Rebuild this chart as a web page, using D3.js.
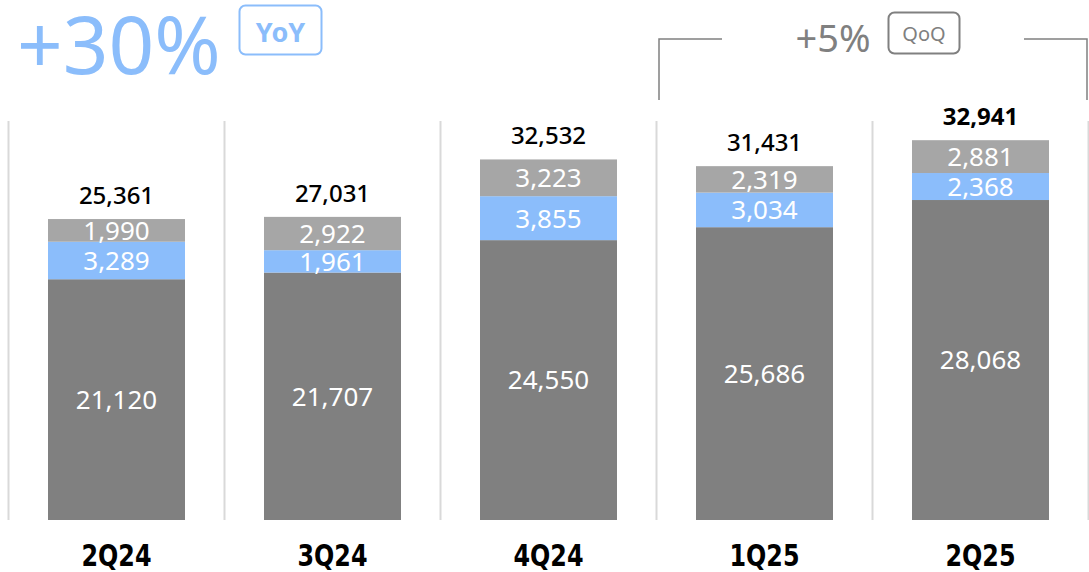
<!DOCTYPE html>
<html>
<head>
<meta charset="utf-8">
<script src="https://cdn.jsdelivr.net/npm/d3@7"></script>
<style>
  body { margin: 0; background: #fff; }
  text { font-family: "Noto Sans", "Open Sans", sans-serif; }
</style>
</head>
<body>
<script>
// data
var quarters = ["2Q24", "3Q24", "4Q24", "1Q25", "2Q25"];
var baseValues = [21120, 21707, 24550, 25686, 28068];
var blueValues = [3289, 1961, 3855, 3034, 2368];
var grayValues = [1990, 2922, 3223, 2319, 2881];
var totalLabels = ["25,361", "27,031", "32,532", "31,431", "32,941"];
var yoyText = "+30%", qoqText = "+5%";

var width = 1089, height = 572;

var svg = d3.select("body").append("svg")
    .attr("width", width)
    .attr("height", height);

// scales
var x = d3.scaleBand().domain(quarters).range([8.5, 1088.5]).paddingInner(0.3657).paddingOuter(0.3657 / 2);
var y = d3.scaleLinear().domain([0, 35000]).range([520, 121]);

var colors = ["#808080", "#8bbdfb", "#a6a6a6"];

// stack the three series
var rows = quarters.map(function(q, i) {
  return {q: q, base: baseValues[i], blue: blueValues[i], gray: grayValues[i]};
});
var series = d3.stack().keys(["base", "blue", "gray"])(rows);

// separators
svg.selectAll(".sep")
    .data(d3.range(quarters.length + 1))
  .enter().append("line")
    .attr("x1", function(i) { return Math.round(8.5 + i * x.step()) - 0.5; })
    .attr("x2", function(i) { return Math.round(8.5 + i * x.step()) - 0.5; })
    .attr("y1", 121)
    .attr("y2", 520)
    .style("stroke", "#d9d9d9")
    .style("stroke-width", 2);

// bars
var layer = svg.selectAll(".layer")
    .data(series)
  .enter().append("g")
    .attr("class", "layer")
    .style("fill", function(d, i) { return colors[i]; });

layer.selectAll("rect")
    .data(function(d) { return d; })
  .enter().append("rect")
    .attr("x", function(d) { return x(d.data.q); })
    .attr("y", function(d) { return y(d[1]); })
    .attr("width", x.bandwidth())
    .attr("height", function(d) { return y(d[0]) - y(d[1]); });

// segment labels
layer.selectAll("text")
    .data(function(d) { return d; })
  .enter().append("text")
    .attr("x", function(d) { return x(d.data.q) + x.bandwidth() / 2; })
    .attr("y", function(d) { return (y(d[0]) + y(d[1])) / 2; })
    .attr("dy", "0.36em")
    .style("text-anchor", "middle")
    .style("fill", "#fff")
    .style("font-size", "26px")
    .text(function(d) { return d3.format(",")(d[1] - d[0]); });

// totals
svg.selectAll(".total")
    .data(rows)
  .enter().append("text")
    .attr("class", "total")
    .attr("x", function(d) { return x(d.q) + x.bandwidth() / 2; })
    .attr("y", function(d) { return y(d.base + d.blue + d.gray) - 15; })
    .style("text-anchor", "middle")
    .style("font-size", "24px")
    .style("font-weight", function(d, i) { return i == quarters.length - 1 ? "bold" : "500"; })
    .style("fill", "#000")
    .text(function(d, i) { return totalLabels[i]; });

// category labels
svg.selectAll(".cat")
    .data(quarters)
  .enter().append("text")
    .attr("class", "cat")
    .attr("x", function(d) { return x(d) + x.bandwidth() / 2; })
    .attr("y", 566)
    .attr("textLength", 70)
    .attr("lengthAdjust", "spacingAndGlyphs")
    .style("text-anchor", "middle")
    .style("font-family", "'DejaVu Sans Condensed', 'DejaVu Sans', sans-serif")
    .style("font-weight", "bold")
    .style("font-size", "30px")
    .style("fill", "#000")
    .text(function(d) { return d; });

// YoY headline
svg.append("text")
    .attr("x", 17)
    .attr("y", 74)
    .style("font-size", "80px")
    .style("fill", "#8bbdfb")
    .text(yoyText);

svg.append("rect")
    .attr("x", 239.5).attr("y", 5.5)
    .attr("width", 82).attr("height", 49)
    .attr("rx", 6)
    .style("fill", "none")
    .style("stroke", "#8bbdfb")
    .style("stroke-width", 2);

svg.append("text")
    .attr("x", 280.5).attr("y", 42)
    .style("text-anchor", "middle")
    .style("font-size", "27px")
    .style("font-weight", "bold")
    .style("fill", "#8bbdfb")
    .text("YoY");

// QoQ headline with bracket
var bracket = "M659,100 V39 H722 M1024,39 H1087 V100";
svg.append("path")
    .attr("d", bracket)
    .style("fill", "none")
    .style("stroke", "#808080")
    .style("stroke-width", 1.5);

svg.append("text")
    .attr("x", 833).attr("y", 52)
    .style("text-anchor", "middle")
    .style("font-size", "38px")
    .style("fill", "#808080")
    .text(qoqText);

svg.append("rect")
    .attr("x", 888.5).attr("y", 12.5)
    .attr("width", 71).attr("height", 41)
    .attr("rx", 6)
    .style("fill", "none")
    .style("stroke", "#808080")
    .style("stroke-width", 2);

svg.append("text")
    .attr("x", 924).attr("y", 41)
    .style("text-anchor", "middle")
    .style("font-size", "20px")
    .style("fill", "#808080")
    .text("QoQ");
</script>
</body>
</html>
